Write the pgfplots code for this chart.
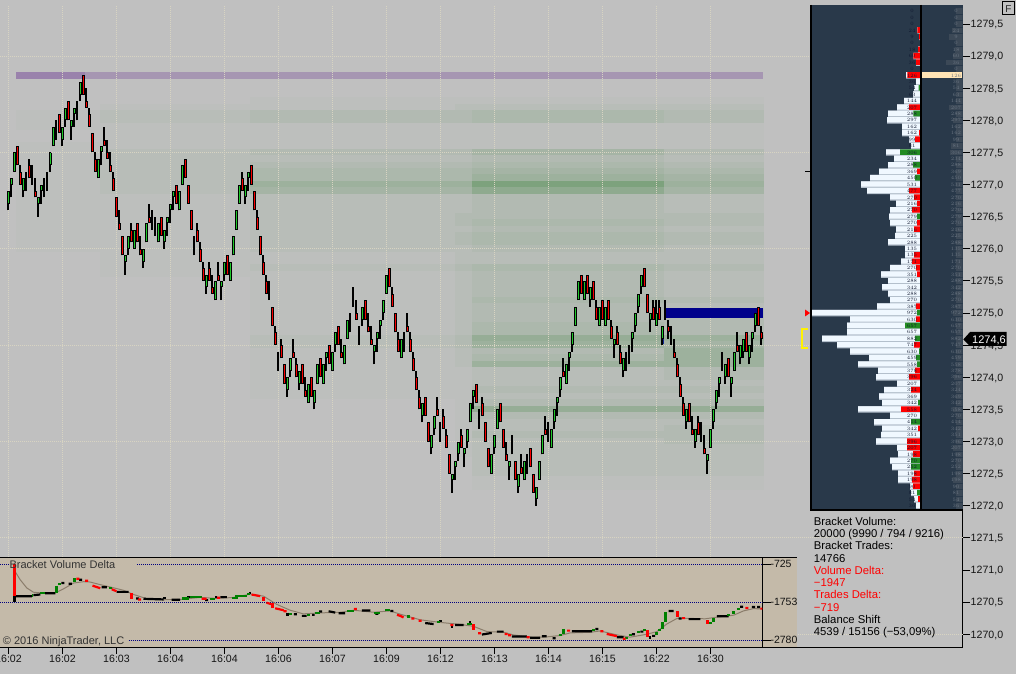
\documentclass[border=0pt]{standalone}
\usepackage{fontspec}
\setmainfont{Liberation Sans}
\usepackage{pgfplots}
\usepackage{pgfplotstable}
\pgfplotsset{compat=1.18}

\definecolor{chartbg}{HTML}{C0C0C0}
\definecolor{griddot}{HTML}{D8D4C2}
\definecolor{candlegreen}{HTML}{1FC82A}
\definecolor{candlered}{HTML}{F80000}
\definecolor{panelbg}{HTML}{29394A}
\definecolor{profwhite}{HTML}{F0F8FF}
\definecolor{profsep}{HTML}{B4C0CC}
\definecolor{profgreen}{HTML}{228B22}
\definecolor{profdim}{HTML}{3C4957}
\definecolor{proftan}{HTML}{FFE4B5}
\definecolor{beige}{HTML}{C4BAA9}
\definecolor{maline}{HTML}{8B7D6B}
\definecolor{labelcol}{HTML}{141414}
\definecolor{deltagreen}{HTML}{008000}
\definecolor{navyband}{HTML}{00008B}
\definecolor{navydot}{HTML}{000080}
\definecolor{navysmall}{HTML}{142896}
\definecolor{purpledark}{HTML}{9A82AC}
\definecolor{purplelight}{HTML}{A696B2}
\definecolor{tinydark}{HTML}{101830}
\definecolor{tinydim}{HTML}{6A7582}

% range bars: n low high bodylow bodyhigh colour (0 none, 1 up, 2 down)
\pgfplotstableread{
n lo hi bl bh c
0 1276.6 1276.9 1276.7 1276.9 1
1 1276.8 1277.1 1277.0 1277.1 1
2 1277.2 1277.5 1277.2 1277.5 1
3 1277.3 1277.6 1277.3 1277.6 2
4 1277.0 1277.3 1277.0 1277.2 2
5 1276.8 1277.1 1276.9 1277.1 1
6 1276.9 1277.2 1276.9 1277.2 0
7 1277.1 1277.4 1277.1 1277.3 2
8 1277.0 1277.3 1277.0 1277.3 0
9 1276.8 1277.1 1276.8 1276.9 2
10 1276.5 1276.8 1276.7 1276.8 1
11 1276.7 1277.0 1276.9 1277.0 1
12 1276.8 1277.1 1276.8 1277.1 0
13 1276.9 1277.2 1276.9 1277.2 0
14 1277.2 1277.5 1277.3 1277.5 1
15 1277.6 1277.9 1277.6 1277.9 1
16 1277.7 1278.0 1277.7 1278.0 0
17 1277.8 1278.1 1277.8 1278.1 2
18 1277.6 1277.9 1277.7 1277.9 1
19 1277.9 1278.2 1278.0 1278.2 1
20 1278.0 1278.3 1278.0 1278.3 2
21 1277.7 1278.0 1277.9 1278.0 1
22 1277.9 1278.2 1278.1 1278.2 1
23 1278.0 1278.3 1278.0 1278.3 0
24 1278.3 1278.6 1278.4 1278.6 1
25 1278.4 1278.7 1278.4 1278.7 2
26 1278.2 1278.5 1278.2 1278.3 2
27 1277.9 1278.2 1277.9 1278.1 2
28 1277.5 1277.8 1277.5 1277.8 2
29 1277.2 1277.5 1277.2 1277.4 2
30 1277.1 1277.4 1277.1 1277.4 1
31 1277.3 1277.6 1277.5 1277.6 1
32 1277.6 1277.9 1277.6 1277.7 2
33 1277.4 1277.7 1277.4 1277.5 2
34 1277.2 1277.5 1277.2 1277.3 2
35 1276.9 1277.2 1276.9 1277.1 2
36 1276.5 1276.8 1276.5 1276.8 2
37 1276.3 1276.6 1276.3 1276.4 2
38 1275.9 1276.2 1275.9 1276.2 2
39 1275.6 1275.9 1275.8 1275.9 1
40 1275.9 1276.2 1276.0 1276.2 1
41 1276.1 1276.4 1276.1 1276.3 2
42 1276.0 1276.3 1276.0 1276.3 1
43 1276.1 1276.4 1276.1 1276.4 2
44 1275.9 1276.2 1275.9 1276.0 2
45 1275.7 1276.0 1275.8 1276.0 1
46 1276.1 1276.4 1276.1 1276.4 1
47 1276.4 1276.7 1276.4 1276.5 2
48 1276.3 1276.6 1276.3 1276.6 0
49 1276.2 1276.5 1276.2 1276.5 0
50 1276.1 1276.4 1276.1 1276.4 1
51 1276.2 1276.5 1276.2 1276.5 2
52 1276.0 1276.3 1276.1 1276.3 1
53 1276.2 1276.5 1276.4 1276.5 1
54 1276.4 1276.7 1276.6 1276.7 1
55 1276.6 1276.9 1276.8 1276.9 1
56 1276.7 1277.0 1276.7 1277.0 2
57 1276.6 1276.9 1276.6 1276.9 1
58 1277.0 1277.3 1277.0 1277.3 1
59 1277.1 1277.4 1277.1 1277.4 2
60 1276.7 1277.0 1276.7 1277.0 2
61 1276.3 1276.6 1276.3 1276.6 2
62 1275.9 1276.2 1275.9 1276.2 0
63 1276.1 1276.4 1276.1 1276.3 2
64 1275.8 1276.1 1275.8 1276.0 2
65 1275.5 1275.8 1275.5 1275.7 2
66 1275.3 1275.6 1275.4 1275.6 1
67 1275.5 1275.8 1275.5 1275.7 2
68 1275.3 1275.6 1275.3 1275.4 2
69 1275.2 1275.5 1275.2 1275.5 1
70 1275.5 1275.8 1275.5 1275.6 2
71 1275.2 1275.5 1275.4 1275.5 1
72 1275.5 1275.8 1275.6 1275.8 1
73 1275.6 1275.9 1275.6 1275.9 2
74 1275.5 1275.8 1275.5 1275.8 1
75 1275.9 1276.2 1275.9 1276.2 1
76 1276.3 1276.6 1276.3 1276.6 1
77 1276.7 1277.0 1276.7 1277.0 1
78 1276.9 1277.2 1276.9 1277.1 2
79 1276.7 1277.0 1276.8 1277.0 1
80 1276.9 1277.2 1277.1 1277.2 1
81 1277.0 1277.3 1277.0 1277.3 2
82 1276.6 1276.9 1276.6 1276.9 2
83 1276.3 1276.6 1276.3 1276.5 2
84 1275.9 1276.2 1275.9 1276.2 2
85 1275.6 1275.9 1275.6 1275.8 2
86 1275.3 1275.6 1275.3 1275.5 2
87 1275.2 1275.5 1275.2 1275.5 0
88 1274.8 1275.1 1274.8 1275.1 2
89 1274.5 1274.8 1274.5 1274.7 2
90 1274.1 1274.4 1274.1 1274.4 0
91 1274.3 1274.6 1274.3 1274.5 2
92 1273.9 1274.2 1273.9 1274.2 2
93 1273.7 1274.0 1273.8 1274.0 1
94 1274.0 1274.3 1274.1 1274.3 1
95 1274.3 1274.6 1274.3 1274.4 2
96 1274.0 1274.3 1274.0 1274.2 2
97 1273.8 1274.1 1273.9 1274.1 1
98 1273.9 1274.2 1273.9 1274.2 2
99 1273.7 1274.0 1273.7 1273.8 2
100 1273.6 1273.9 1273.6 1273.9 1
101 1273.7 1274.0 1273.7 1274.0 2
102 1273.5 1273.8 1273.6 1273.8 1
103 1273.9 1274.2 1273.9 1274.2 1
104 1274.0 1274.3 1274.0 1274.3 2
105 1273.9 1274.2 1273.9 1274.2 1
106 1274.1 1274.4 1274.3 1274.4 1
107 1274.2 1274.5 1274.2 1274.5 2
108 1274.1 1274.4 1274.1 1274.4 1
109 1274.4 1274.7 1274.5 1274.7 1
110 1274.5 1274.8 1274.5 1274.8 2
111 1274.3 1274.6 1274.3 1274.4 2
112 1274.2 1274.5 1274.2 1274.5 1
113 1274.6 1274.9 1274.6 1274.9 1
114 1274.7 1275.0 1274.7 1275.0 0
115 1275.1 1275.4 1275.1 1275.4 0
116 1274.9 1275.2 1274.9 1275.0 2
117 1274.5 1274.8 1274.5 1274.8 0
118 1274.8 1275.1 1274.9 1275.1 1
119 1274.9 1275.2 1274.9 1275.2 2
120 1274.7 1275.0 1274.7 1274.8 2
121 1274.5 1274.8 1274.5 1274.6 2
122 1274.2 1274.5 1274.4 1274.5 1
123 1274.4 1274.7 1274.6 1274.7 1
124 1274.6 1274.9 1274.8 1274.9 1
125 1274.9 1275.2 1275.0 1275.2 1
126 1275.3 1275.6 1275.3 1275.6 1
127 1275.4 1275.7 1275.4 1275.7 2
128 1275.1 1275.4 1275.1 1275.3 2
129 1274.7 1275.0 1274.7 1275.0 2
130 1274.4 1274.7 1274.4 1274.6 2
131 1274.3 1274.6 1274.3 1274.6 1
132 1274.4 1274.7 1274.4 1274.7 0
133 1274.7 1275.0 1274.7 1274.8 2
134 1274.4 1274.7 1274.4 1274.6 2
135 1274.1 1274.4 1274.1 1274.3 2
136 1273.8 1274.1 1273.8 1274.0 2
137 1273.5 1273.8 1273.5 1273.7 2
138 1273.3 1273.6 1273.4 1273.6 1
139 1273.4 1273.7 1273.4 1273.7 2
140 1273.0 1273.3 1273.0 1273.3 2
141 1272.8 1273.1 1272.9 1273.1 1
142 1273.1 1273.4 1273.2 1273.4 1
143 1273.4 1273.7 1273.4 1273.5 2
144 1273.0 1273.3 1273.0 1273.3 0
145 1273.2 1273.5 1273.2 1273.4 2
146 1272.9 1273.2 1272.9 1273.1 2
147 1272.5 1272.8 1272.5 1272.8 2
148 1272.2 1272.5 1272.4 1272.5 1
149 1272.4 1272.7 1272.6 1272.7 1
150 1272.7 1273.0 1272.8 1273.0 1
151 1272.9 1273.2 1272.9 1273.1 2
152 1272.6 1272.9 1272.8 1272.9 1
153 1272.9 1273.2 1273.0 1273.2 1
154 1273.3 1273.6 1273.3 1273.6 1
155 1273.5 1273.8 1273.7 1273.8 1
156 1273.6 1273.9 1273.6 1273.9 2
157 1273.2 1273.5 1273.2 1273.5 0
158 1273.4 1273.7 1273.4 1273.6 2
159 1273.0 1273.3 1273.0 1273.3 2
160 1272.6 1272.9 1272.6 1272.9 2
161 1272.5 1272.8 1272.5 1272.8 1
162 1272.8 1273.1 1272.9 1273.1 1
163 1273.2 1273.5 1273.2 1273.5 1
164 1273.3 1273.6 1273.3 1273.6 2
165 1272.9 1273.2 1272.9 1273.2 2
166 1272.7 1273.0 1272.7 1272.8 2
167 1272.4 1272.7 1272.6 1272.7 1
168 1272.8 1273.1 1272.8 1273.1 0
169 1272.4 1272.7 1272.4 1272.7 2
170 1272.2 1272.5 1272.3 1272.5 1
171 1272.5 1272.8 1272.5 1272.6 2
172 1272.4 1272.7 1272.4 1272.7 1
173 1272.5 1272.8 1272.5 1272.8 0
174 1272.6 1272.9 1272.6 1272.9 2
175 1272.2 1272.5 1272.2 1272.5 2
176 1272.0 1272.3 1272.1 1272.3 1
177 1272.4 1272.7 1272.4 1272.7 1
178 1272.8 1273.1 1272.8 1273.1 1
179 1273.1 1273.4 1273.1 1273.2 2
180 1273.0 1273.3 1273.0 1273.3 0
181 1272.9 1273.2 1272.9 1273.2 1
182 1273.2 1273.5 1273.3 1273.5 1
183 1273.4 1273.7 1273.6 1273.7 1
184 1273.7 1274.0 1273.8 1274.0 1
185 1274.0 1274.3 1274.0 1274.1 2
186 1273.9 1274.2 1273.9 1274.2 1
187 1274.1 1274.4 1274.3 1274.4 1
188 1274.4 1274.7 1274.5 1274.7 1
189 1274.8 1275.1 1274.8 1275.1 1
190 1275.2 1275.5 1275.2 1275.5 1
191 1275.3 1275.6 1275.3 1275.6 2
192 1275.2 1275.5 1275.2 1275.5 1
193 1275.3 1275.6 1275.3 1275.6 2
194 1275.1 1275.4 1275.2 1275.4 1
195 1275.2 1275.5 1275.2 1275.5 2
196 1274.9 1275.2 1274.9 1275.1 2
197 1274.8 1275.1 1274.8 1275.1 1
198 1274.9 1275.2 1274.9 1275.2 2
199 1274.8 1275.1 1274.8 1275.1 1
200 1274.9 1275.2 1274.9 1275.2 2
201 1274.6 1274.9 1274.6 1274.8 2
202 1274.3 1274.6 1274.5 1274.6 1
203 1274.5 1274.8 1274.5 1274.7 2
204 1274.2 1274.5 1274.2 1274.4 2
205 1274.0 1274.3 1274.1 1274.3 1
206 1274.1 1274.4 1274.1 1274.4 0
207 1274.2 1274.5 1274.2 1274.5 0
208 1274.4 1274.7 1274.6 1274.7 1
209 1274.7 1275.0 1274.8 1275.0 1
210 1275.0 1275.3 1275.1 1275.3 1
211 1275.3 1275.6 1275.4 1275.6 1
212 1275.4 1275.7 1275.4 1275.7 2
213 1275.0 1275.3 1275.0 1275.3 2
214 1274.7 1275.0 1274.9 1275.0 1
215 1274.9 1275.2 1274.9 1275.1 2
216 1274.8 1275.2 1274.8 1275.0 1
217 1274.9 1275.2 1274.9 1275.1 2
218 1274.5 1274.8 1274.6 1274.8 1
219 1274.9 1275.2 1274.9 1275.2 0
220 1274.6 1274.9 1274.7 1274.8 2
221 1274.5 1274.8 1274.5 1274.8 0
222 1274.3 1274.6 1274.3 1274.4 2
223 1274.0 1274.3 1274.0 1274.2 2
224 1273.7 1274.0 1273.7 1273.9 2
225 1273.4 1273.7 1273.4 1273.6 2
226 1273.2 1273.5 1273.3 1273.5 1
227 1273.3 1273.6 1273.3 1273.6 2
228 1273.1 1273.4 1273.1 1273.2 2
229 1272.9 1273.2 1273.0 1273.2 1
230 1273.1 1273.4 1273.1 1273.3 2
231 1273.0 1273.3 1273.0 1273.3 0
232 1272.8 1273.1 1272.8 1272.9 2
233 1272.5 1272.8 1272.7 1272.8 1
234 1272.9 1273.2 1272.9 1273.2 1
235 1273.2 1273.5 1273.3 1273.5 1
236 1273.5 1273.8 1273.6 1273.8 1
237 1273.7 1274.0 1273.9 1274.0 1
238 1274.1 1274.4 1274.1 1274.4 0
239 1273.9 1274.2 1274.0 1274.2 1
240 1274.0 1274.3 1274.0 1274.3 2
241 1273.7 1274.0 1273.9 1274.0 1
242 1274.1 1274.4 1274.1 1274.4 1
243 1274.4 1274.7 1274.4 1274.5 2
244 1274.2 1274.5 1274.3 1274.5 1
245 1274.3 1274.6 1274.4 1274.6 1
246 1274.4 1274.7 1274.4 1274.7 2
247 1274.2 1274.5 1274.3 1274.5 1
248 1274.4 1274.7 1274.6 1274.7 1
249 1274.7 1275.0 1274.8 1275.0 1
250 1274.8 1275.1 1274.8 1275.1 2
251 1274.5 1274.8 1274.6 1274.7 2
}\rangebars

% volume bands behind the bars: price, then shade level in six time columns
\pgfplotstableread{
p A B C D E F
1278.3 0 0 1 1 1 1
1278.2 0 1 1 2 2 2
1278.1 1 2 3 3 4 3
1278.0 1 2 3 3 4 3
1277.9 1 1 1 1 1 1
1277.8 0 1 1 1 1 1
1277.7 0 1 1 1 1 1
1277.6 1 1 1 1 1 1
1277.5 1 2 3 3 5 3
1277.4 1 2 2 2 3 2
1277.3 1 2 3 3 4 3
1277.2 1 2 4 4 5 4
1277.1 1 2 4 4 6 5
1277.0 1 2 6 6 10 6
1276.9 1 2 5 5 8 5
1276.8 1 1 2 2 3 2
1276.7 1 1 2 2 3 2
1276.6 1 1 2 2 3 2
1276.5 1 1 2 3 3 3
1276.4 1 1 2 3 4 3
1276.3 1 1 2 2 3 2
1276.2 1 1 2 3 4 3
1276.1 1 1 2 3 4 3
1276.0 1 1 2 2 3 2
1275.9 0 1 1 2 2 2
1275.8 0 1 1 2 2 2
1275.7 0 1 2 3 4 3
1275.6 0 1 1 2 3 2
1275.5 0 0 1 2 3 2
1275.4 0 0 1 2 3 2
1275.3 0 0 1 2 3 2
1275.2 0 0 1 2 4 3
1275.1 0 0 1 2 3 2
1275.0 0 0 1 2 3 3
1274.9 0 0 1 2 3 3
1274.8 0 0 1 2 4 3
1274.7 0 0 1 2 4 3
1274.6 0 0 2 3 7 6
1274.5 0 0 2 3 6 5
1274.4 0 0 1 2 3 6
1274.3 0 0 1 2 4 6
1274.2 0 0 1 2 6 6
1274.1 0 0 1 1 2 3
1274.0 0 0 1 1 2 3
1273.9 0 0 1 1 2 2
1273.8 0 0 1 1 3 3
1273.7 0 0 1 1 2 2
1273.6 0 0 0 1 3 3
1273.5 0 0 0 1 7 7
1273.4 0 0 0 1 3 3
1273.3 0 0 0 1 2 2
1273.2 0 0 0 1 2 3
1273.1 0 0 0 1 3 3
1273.0 0 0 0 1 2 3
1272.9 0 0 0 1 2 2
1272.8 0 0 0 1 2 2
1272.7 0 0 0 0 2 2
1272.6 0 0 0 0 2 2
1272.5 0 0 0 0 2 2
1272.4 0 0 0 0 1 1
1272.3 0 0 0 0 1 1
}\heatrows

% volume profile: price, total, red part, green part, right hand column
\pgfplotstableread{
p L r g R
1279.7 0 0 0 7
1279.6 0 0 0 7
1279.5 0 0 0 7
1279.4 2.7 2.7 0 11
1279.3 1 1 0 14
1279.2 0 0 0 7
1279.1 2 2 0 8
1279.0 6.7 6.7 0 10
1278.9 4 4 0 17
1278.8 0 0 0 7
1278.7 14 12.7 0 0
1278.6 4 0 0 7
1278.5 6 0 1.3 7
1278.4 7 0 0 7
1278.3 16 0 0 7
1278.2 23 11 0 14
1278.1 32 0 6.7 7
1278.0 33 0 0 10
1277.9 18 0 0 7
1277.8 18 1 0 7
1277.7 11 5 0 7
1277.6 9 0 0 12
1277.5 34 0 20 13
1277.4 26 0 0 7
1277.3 32 0 7 7
1277.2 41 3 0 7
1277.1 50 0 5 7
1277.0 59 0 0 7
1276.9 53 11 0 7
1276.8 30 6 0 7
1276.7 24 3 0 7
1276.6 30 8 0 7
1276.5 31 0 3 7
1276.4 30 3 0 7
1276.3 24 6 0 7
1276.2 25 0 0 7
1276.1 32 0 0 7
1276.0 15 0 0 7
1275.9 15 6 0 7
1275.8 19 8 0 7
1275.7 30 4 0 7
1275.6 39 3 0 7
1275.5 32 0 0 7
1275.4 38 0 0 7
1275.3 32 0 0 7
1275.2 30 0 0 7
1275.1 43 4 0 7
1275.0 108 0 3 10
1274.9 70 4 0 7
1274.8 73 0 15 7
1274.7 73 0 0 7
1274.6 98 0 5 7
1274.5 83 6 0 7
1274.4 70 0 1 7
1274.3 51 0 4 7
1274.2 62 0 3 7
1274.1 42 5 0 7
1274.0 44 11 0 9
1273.9 23 0 0 7
1273.8 36 9 0 7
1273.7 41 0 0 7
1273.6 38 0 2 7
1273.5 62 19 0 10
1273.4 30 0 0 7
1273.3 46 0 9 7
1273.2 38 2 0 7
1273.1 39 0 0 7
1273.0 44 13 0 7
1272.9 23 13 0 10
1272.8 22 7 0 7
1272.7 30 0 9 7
1272.6 28 0 9 7
1272.5 22 6 0 7
1272.4 22 8 0 10
1272.3 10 7 0 7
1272.2 9 0 3 7
1272.1 6 2 0 7
1272.0 4 0 0 7
}\profile

\pgfplotsset{
  rangeplot/.style n args={2}{draw=none, mark=none, forget plot,
    error bars/.cd, y dir=plus, y explicit, error mark=none,
    error bar style={draw=#1, line width=#2}},
  heatcol/.style={scatter, only marks, mark=square*, mark size=3.21pt,
    point meta=explicit, forget plot,
    scatter/use mapped color={draw=mapped color, fill=mapped color, line width=0pt},
    mark options={xscale=#1}},
  deltaline/.style n args={2}{color=#1, line width=#2, unbounded coords=jump, forget plot},
  tinytext/.style={draw=none, mark=none, forget plot, nodes near coords,
    point meta={\thisrow{L}*9},
    every node near coord/.style={anchor=center, inner sep=0pt, text=#1,
      font=\fontsize{3.4}{3.4}\selectfont, /pgf/number format/fixed,
      /pgf/number format/precision=0, /pgf/number format/1000 sep={}}},
}

\begin{document}
\begin{tikzpicture}[x=1pt,y=1pt]
\useasboundingbox (0,0) rectangle (1016,674);
\fill[chartbg] (0,0) rectangle (1016,674);

% volume bands, under the grid
\begin{axis}[
  at={(0pt,27pt)}, anchor=south west, scale only axis,
  width=962.7pt, height=642pt,
  xmin=-2.833, xmax=318.07, ymin=1269.802, ymax=1279.796,
  hide axis,
  colormap={heatband}{rgb255(0cm)=(192,192,192) rgb255(1cm)=(189,191,189) rgb255(2cm)=(184,189,184)
    rgb255(4cm)=(172,184,172) rgb255(8cm)=(143,170,143) rgb255(10cm)=(125,162,125)},
  point meta min=0, point meta max=10,
]
\addplot[heatcol=13.08] table[x expr=16.6, y=p, meta=A] {\heatrows};
\addplot[heatcol=23.36] table[x expr=55.6, y=p, meta=B] {\heatrows};
\addplot[heatcol=31.93] table[x expr=114.7, y=p, meta=C] {\heatrows};
\addplot[heatcol=2.65] table[x expr=151.7, y=p, meta=D] {\heatrows};
\addplot[heatcol=29.91] table[x expr=186.6, y=p, meta=E] {\heatrows};
\addplot[heatcol=15.42] table[x expr=235.1, y=p, meta=F] {\heatrows};
\addplot[color=purpledark, line width=7pt, forget plot]
  coordinates {(2.55,1278.70)(25.5,1278.70)};
\addplot[color=purplelight, line width=7pt, forget plot]
  coordinates {(25.5,1278.70)(251.6,1278.70)};
\end{axis}

% price chart with time and price scales
\begin{axis}[
  at={(0pt,27pt)}, anchor=south west, scale only axis,
  width=962.7pt, height=642pt,
  xmin=-2.833, xmax=318.07, ymin=1269.802, ymax=1279.796,
  axis x line*=bottom, axis y line*=right,
  axis line style={line width=1pt, black, -},
  tick align=outside, major tick length=7pt,
  tick style={black, line width=1pt},
  xtick={0,18,...,234},
  xticklabels={16:02,16:02,16:03,16:04,16:04,16:06,16:07,16:09,16:12,16:13,16:14,16:15,16:22,16:30},
  xticklabel style={yshift=2pt},
  ytick={1270,1270.5,1271,1271.5,1272,1272.5,1273,1273.5,1274,1274.5,1275,1275.5,1276,1276.5,1277,1277.5,1278,1278.5,1279,1279.5},
  yticklabel style={xshift=-2.5pt, yshift=-0.8pt, /pgf/number format/.cd, fixed, fixed zerofill, precision=1, use comma, 1000 sep={}, assume math mode=true},
  ticklabel style={font=\fontsize{10.6}{10.6}\selectfont, text=labelcol},
  scaled y ticks=false,
  xmajorgrids=true,
  major grid style={griddot, line width=1pt, dash pattern=on 1pt off 1pt},
  extra y ticks={1270,1271.5,1273,1274.5,1276,1277.5,1279},
  extra y tick labels={},
  extra y tick style={major tick length=0pt, ymajorgrids=true},
]
\addplot[color=navyband, line width=9.5pt, forget plot]
  coordinates {(218.6,1275.0)(251.6,1275.0)};
\addplot[color=navysmall, line width=3pt, forget plot]
  coordinates {(217.9,1274.62)(217.9,1274.52)};
\addplot[rangeplot={black}{2pt}] table[x expr=\thisrow{n}-0.17, y=lo, y error expr=\thisrow{hi}-\thisrow{lo}] {\rangebars};
\addplot[rangeplot={black}{3.4pt}] table[x expr={\thisrow{c}>0 ? \thisrow{n} : nan}, y=bl, y error expr=\thisrow{bh}-\thisrow{bl}] {\rangebars};
\addplot[rangeplot={candlegreen}{1.6pt}] table[x expr={\thisrow{c}==1 ? \thisrow{n} : nan}, y expr=\thisrow{bl}+0.0156, y error expr=\thisrow{bh}-\thisrow{bl}-0.0312] {\rangebars};
\addplot[rangeplot={candlered}{1.6pt}] table[x expr={\thisrow{c}==2 ? \thisrow{n} : nan}, y expr=\thisrow{bl}+0.0156, y error expr=\thisrow{bh}-\thisrow{bl}-0.0312] {\rangebars};
\end{axis}

% volume profile panel
\begin{axis}[
  at={(811pt,164pt)}, anchor=south west, scale only axis,
  width=151.7pt, height=505pt,
  x dir=reverse, xmin=-42.7, xmax=109, ymin=1271.935, ymax=1279.796,
  axis line style={draw=none}, xtick=\empty, ytick=\empty,
  axis background/.style={fill=panelbg},
]
\addplot[draw=none, mark=none, forget plot, error bars/.cd, x dir=plus, x explicit, error mark=none,
  error bar style={draw=profdim, line width=5.6pt}] table[x expr=-42.7, y=p, x error=R] {\profile};
\addplot[xbar, bar width=6.42pt, bar shift=0pt, fill=profsep, draw=none, forget plot] table[x=L, y=p] {\profile};
\addplot[xbar, bar width=5.2pt, bar shift=0.6pt, fill=profwhite, draw=none, forget plot] table[x=L, y=p] {\profile};
\addplot[xbar, bar width=5.6pt, bar shift=0.4pt, fill=red, draw=none, forget plot] table[x=r, y=p] {\profile};
\addplot[xbar, bar width=5.6pt, bar shift=0.4pt, fill=profgreen, draw=none, forget plot] table[x=g, y=p] {\profile};
\addplot[color=proftan, line width=6pt, forget plot]
  coordinates {(-2,1278.7)(-41.7,1278.7)};
\addplot[tinytext={tinydark}] table[x expr=8, y=p] {\profile};
\addplot[tinytext={tinydim}] table[x expr=-36, y=p] {\profile};
\end{axis}
\draw[black, line width=2pt] (811,669) -- (811,163);
\draw[black, line width=2pt] (921,669) -- (921,163);
\draw[black, line width=2pt] (810,164) -- (962.7,164);

% delta panel
\fill[beige] (0,27) rectangle (797,116);
\begin{axis}[
  at={(0pt,27pt)}, anchor=south west, scale only axis,
  width=762.5pt, height=89pt,
  xmin=-2.833, xmax=251.33, ymin=-2966, ymax=-554,
  axis x line*=bottom, axis y line*=right,
  axis line style={line width=1pt, black, -},
  xtick=\empty,
  tick align=outside, major tick length=8pt,
  tick style={black, line width=1pt},
  ytick={-2780,-1753,-725},
  yticklabels={-2780,-1753,-725},
  yticklabel style={xshift=-3.5pt},
  ticklabel style={font=\fontsize{10.5}{10.5}\selectfont, text=labelcol},
]
\addplot[color=navydot, line width=1pt, dash pattern=on 1pt off 1pt, unbounded coords=jump, forget plot]
  coordinates {(-2.833,-725)(0.5,-725)(0.6,nan)(42.9,-725)(251.33,-725)(251.33,nan)
               (-2.833,-1753)(251.33,-1753)(251.33,nan)
               (40,-2780)(251.33,-2780)};
% smoothed delta
\addplot[color=maline, line width=1pt, forget plot] coordinates {
 (2.2,-921)(3.9,-1143)(6.1,-1366)(8.3,-1481)(11.7,-1508)(15.6,-1499)(18.3,-1392)(21.7,-1232)
 (25,-1196)(27.2,-1205)(30.6,-1277)(33.9,-1339)(38.3,-1428)(41.7,-1543)(46.1,-1659)(51.7,-1686)
 (57.2,-1677)(63.9,-1623)(69.4,-1650)(75,-1623)(80.6,-1534)(85,-1588)(89.4,-1810)(93.9,-1970)
 (98.3,-2068)(103.9,-2042)(110.6,-2024)(115,-1970)(121.7,-2024)(127.2,-1988)(130.6,-2077)
 (137.2,-2228)(143.9,-2300)(150.6,-2353)(155,-2406)(159.5,-2549)(165,-2567)(168.3,-2638)
 (175,-2709)(179.5,-2691)(183.9,-2655)(187.2,-2584)(193.9,-2567)(197.2,-2531)(202.8,-2638)
 (207.2,-2700)(212.8,-2620)(216.1,-2549)(219.4,-2344)(222.8,-2193)(228.3,-2193)(232.2,-2202)
 (236.1,-2157)(241.7,-2104)(245,-1988)(248.3,-1926)(251.1,-1935)};
% delta bars, flat runs and small steps
\addplot[deltaline={black}{2.2pt}] coordinates {
 (2.2,-1588)(7.8,-1588)(8,nan) (8.3,-1561)(10.6,-1543)(11,nan) (12.2,-1508)(15.6,-1508)(16,nan)
 (17.6,-1232)(18.6,-1232)(19,nan) (20,-1250)(21.1,-1250)(21.5,nan) (23.5,-1143)(24.5,-1143)(25,nan)
 (31,-1348)(32.8,-1348)(33,nan) (36,-1472)(40,-1472)(40.5,nan) (42.5,-1650)(43.5,-1650)(44,nan)
 (45,-1659)(51.7,-1677)(52,nan) (54.4,-1686)(57.2,-1686)(57.5,nan) (65.5,-1695)(66.5,-1695)(67,nan)
 (68.9,-1615)(69.5,-1615)(70,nan) (70.6,-1615)(72.8,-1615)(73,nan) (95.1,-2077)(96.1,-2077)(96.5,nan)
 (97.8,-2122)(99.4,-2122)(99.5,nan) (101.2,-2095)(102,-2095)(102.2,nan) (103.5,-2006)(104.5,-2006)(105,nan)
 (106.7,-1997)(108.9,-2033)(109,nan) (110,-2050)(112.2,-2050)(112.5,nan) (117.8,-1979)(120.6,-1979)(121,nan)
 (122.3,-2068)(123.3,-2068)(123.5,nan) (127.3,-1988)(128.3,-1988)(128.5,nan) (138.9,-2317)(141.7,-2344)(142,nan)
 (148.9,-2371)(151.7,-2371)(152,nan) (157.8,-2629)(161.1,-2584)(161.5,nan) (162.8,-2549)(165,-2549)(165.2,nan)
 (167.8,-2682)(172.8,-2682)(172.9,nan) (173.9,-2718)(177.2,-2718)(177.4,nan) (177.8,-2673)(179.4,-2673)(179.6,nan)
 (181.4,-2727)(182.4,-2727)(182.6,nan) (187.8,-2540)(194.5,-2540)(194.7,nan) (195.6,-2478)(196.6,-2478)(197,nan)
 (202.8,-2700)(205,-2700)(205.1,nan) (207.8,-2620)(208.8,-2620)(209,nan) (210.6,-2549)(211.6,-2549)(211.8,nan)
 (214.5,-2664)(215.5,-2664)(215.8,nan) (220,-1988)(221.7,-1988)(222,nan) (223.4,-2193)(224.4,-2193)(224.6,nan)
 (226.7,-2211)(230.6,-2211)(231,nan) (236.1,-2131)(240,-2131)(240.2,nan) (243.9,-1873)(244.9,-1873)(245.2,nan)
 (247.8,-1881)(248.9,-1881)(249.1,nan) (249.5,-1881)(250.5,-1881)};
\addplot[deltaline={black}{2.2pt}] coordinates {
 (2,-1588)(2,-1739)(2.1,nan) (52,-1615)(52,-1677)(52.1,nan) (60,-1588)(60,-1632)(60.1,nan) (80.6,-1472)(80.6,-1526)(80.7,nan)
 (93,-2033)(93,-2122)(93.1,nan) (144,-2237)(144,-2291)(144.1,nan) (147.8,-2371)(147.8,-2460)(147.9,nan)
 (153.9,-2273)(153.9,-2335)(154,nan) (213.9,-2664)(213.9,-2744)};
\addplot[deltaline={deltagreen}{2.2pt}] coordinates {
 (7.8,-1570)(8.3,-1570)(8.4,nan) (10.6,-1508)(12.2,-1508)(12.4,nan) (16.6,-1250)(17.6,-1250)(17.8,nan)
 (33.5,-1366)(34.5,-1366)(34.7,nan) (57.8,-1650)(60,-1650)(60.2,nan) (60.6,-1615)(64.4,-1615)(64.6,nan)
 (67.2,-1659)(68.9,-1659)(69,nan) (74.4,-1632)(76,-1632)(76,-1588)(79.4,-1588)(79.6,nan) (79.5,-1526)(80.5,-1526)(80.7,nan)
 (93.5,-2068)(94.5,-2068)(94.7,nan) (99.5,-2095)(100.5,-2095)(100.7,nan) (102,-2050)(103.9,-2050)(104,nan)
 (112.8,-1988)(115,-1988)(115.2,nan) (121.7,-2050)(123.9,-2050)(124,nan) (125.6,-1970)(127.2,-1970)(127.4,nan)
 (132.8,-2139)(133.9,-2139)(134,nan) (142.8,-2291)(143.9,-2291)(144,nan) (152.8,-2335)(154.4,-2335)(154.6,nan)
 (183.4,-2638)(184.4,-2638)(184.6,nan) (194.5,-2504)(195.5,-2504)(195.7,nan) (205.6,-2718)(206.6,-2718)(206.8,nan)
 (206.7,-2647)(207.7,-2647)(207.9,nan) (209.5,-2558)(210.5,-2558)(210.7,nan) (211.5,-2504)(212.5,-2504)(212.7,nan)
 (216.5,-2513)(217.5,-2513)(217.7,nan) (233.5,-2317)(234.5,-2317)(234.7,nan) (239.5,-2104)(240.5,-2104)(240.7,nan)
 (241.2,-2033)(242.2,-2033)(242.4,nan) (242.8,-1944)(243.8,-1944)};
\addplot[deltaline={deltagreen}{3pt}] coordinates {
 (16,-1303)(16,-1499)(16.1,nan) (22,-1108)(22,-1214)(22.1,nan) (185,-2478)(185,-2611)(185.1,nan) (216.1,-2558)(216.1,-2629)(216.2,nan)
 (218,-2300)(218,-2478)(218.1,nan) (219,-2015)(219,-2282)(219.1,nan) (235,-2193)(235,-2282)};
\addplot[deltaline={red}{2.2pt}] coordinates {
 (22.6,-1116)(23.6,-1116)(23.8,nan) (25.5,-1170)(26.5,-1170)(26.7,nan) (28,-1303)(30.6,-1374)(30.8,nan)
 (34.4,-1401)(36,-1454)(36.2,nan) (43.2,-1677)(44.2,-1677)(44.4,nan) (64.4,-1659)(66,-1659)(66.2,nan)
 (69.5,-1632)(70.5,-1632)(70.7,nan) (81,-1543)(83.9,-1588)(84.1,nan) (86,-1766)(87.8,-1810)(88,nan)
 (88.9,-1917)(91.7,-1970)(91.9,nan) (91.7,-1997)(92.7,-1997)(92.9,nan) (115.1,-1935)(116.1,-1935)(116.3,nan)
 (129.5,-2095)(130.6,-2122)(131.7,-2166)(131.9,nan) (134.3,-2193)(135.3,-2193)(135.5,nan) (136.7,-2255)(137.7,-2255)(137.9,nan)
 (147.3,-2371)(148.3,-2371)(148.5,nan) (156.5,-2593)(157.5,-2593)(157.7,nan) (165.4,-2611)(166.4,-2611)(166.6,nan)
 (166.5,-2647)(167.5,-2647)(167.7,nan) (172.7,-2700)(173.7,-2700)(173.9,nan) (186.2,-2522)(187.2,-2522)(187.4,nan)
 (197.3,-2540)(198.3,-2540)(198.5,nan) (199.4,-2611)(202.8,-2673)(203,nan) (204.8,-2744)(205.7,-2744)(205.9,nan)
 (224.5,-2184)(225.5,-2184)(225.7,nan) (245.6,-1908)(246.6,-1908)(246.8,nan) (250.6,-1926)(251.3,-1926)};
\addplot[deltaline={red}{3pt}] coordinates {
 (41,-1499)(41,-1659)(41.1,nan) (85,-1615)(85,-1721)(85.1,nan) (88,-1766)(88,-1899)(88.1,nan) (155,-2353)(155,-2504)(155.1,nan)
 (213,-2504)(213,-2682)(213.1,nan) (223,-1988)(223,-2166)(223.1,nan) (233,-2228)(233,-2335)};
\addplot[deltaline={red}{3pt}] coordinates {(2,-725)(2,-1588)};
\end{axis}
\draw[black, line width=1pt] (0,116) -- (797,116);

% text over the delta panel
\node[anchor=base west, inner sep=0pt, text=black!80, font=\fontsize{11}{11}\selectfont] at (9.3,105) {Bracket Volume Delta};
\node[anchor=base west, inner sep=0pt, text=black!80, font=\fontsize{11}{11}\selectfont] at (2.7,29.3) {© 2016 NinjaTrader, LLC};

% bracket statistics
\begin{scope}[every node/.style={anchor=base west, inner sep=0pt, font=\fontsize{11.3}{11.3}\selectfont, text=black}]
\node at (813.7,148.3) {Bracket Volume:};
\node at (813.7,136.3) {20000 (9990 / 794 / 9216)};
\node at (813.7,124.3) {Bracket Trades:};
\node at (813.7,111.3) {14766};
\node[text=red] at (813.7,99.7) {Volume Delta:};
\node[text=red] at (813.7,87.3) {−1947};
\node[text=red] at (813.7,75) {Trades Delta:};
\node[text=red] at (813.7,62.3) {−719};
\node at (813.7,50.3) {Balance Shift};
\node at (813.7,38.3) {4539 / 15156 (−53,09\%)};
\end{scope}

% markers beside the profile
\draw[black, line width=1pt] (805,502) -- (810,502);
\fill[red] (805,357.5) -- (810,361) -- (805,364.5) -- cycle;
\draw[yellow, line width=2pt] (807.5,345) -- (802,345) -- (802,326) -- (807.5,326);

% last price tag
\fill[black] (963.3,334.5) -- (970,342) -- (1006.5,342) -- (1006.5,328) -- (970,328) -- cycle;
\node[anchor=base west, inner sep=0pt, text=white, font=\fontsize{11}{11}\selectfont] at (972,330.2) {1274,6};

% F button
\draw[black, line width=1pt] (1002.3,672) rectangle (1014.5,659.5);
\node[anchor=base, inner sep=0pt, text=black!85, font=\fontsize{10}{10}\selectfont] at (1008.4,661.6) {F};
\end{tikzpicture}
\end{document}
